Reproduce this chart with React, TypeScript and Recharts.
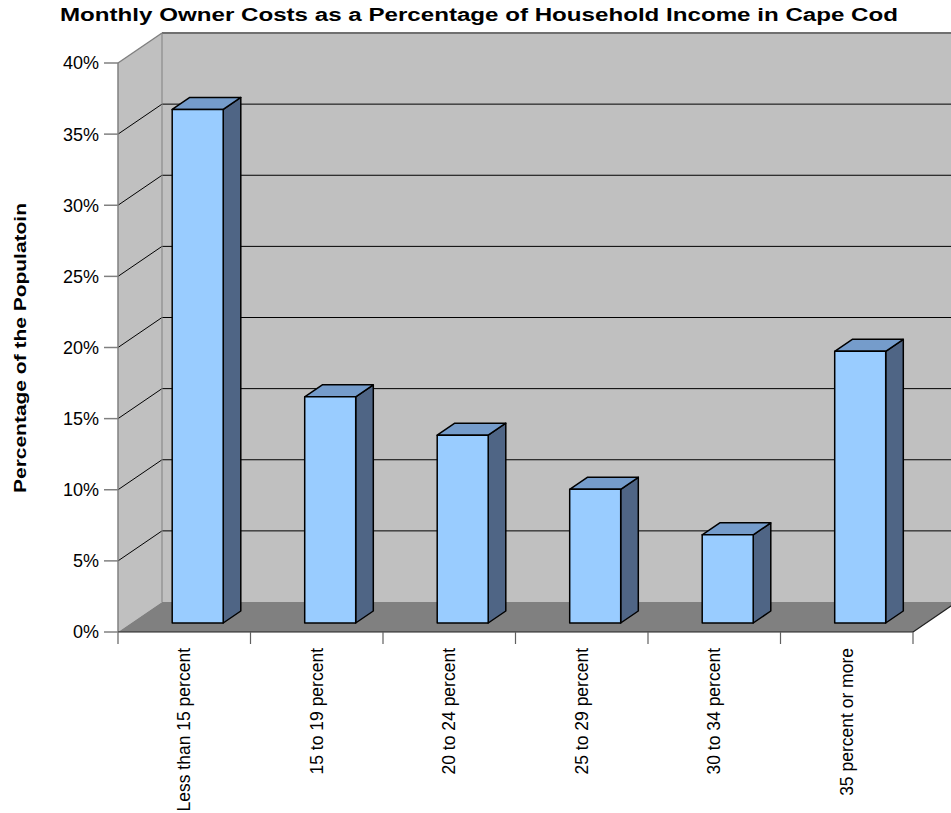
import { BarChart, Bar, XAxis, YAxis, ReferenceArea } from "recharts"

const categories = [
  "Less than 15 percent",
  "15 to 19 percent",
  "20 to 24 percent",
  "25 to 29 percent",
  "30 to 34 percent",
  "35 percent or more",
]
const shares = [36.1, 15.9, 13.2, 9.4, 6.2, 19.1]
const yTicks = [0, 5, 10, 15, 20, 25, 30, 35, 40]

const data = categories.map((name, i) => ({ name, value: shares[i] }))

const FONT = "'Liberation Sans', Arial, Helvetica, sans-serif"
// oblique offset of the back wall relative to the front plane
const DX = 44
const DY = -30
const YMAX = 40

// back wall, side wall, floor and the gridlines painted on them
const Walls = (props: any) => {
  const { x, y, width: w, height: h } = props
  const bottom = y + h
  return (
    <g>
      <polygon
        points={`${x},${y} ${x + DX},${y + DY} ${x + DX},${bottom + DY} ${x},${bottom}`}
        fill="#c0c0c0"
      />
      <rect x={x + DX} y={y + DY} width={w} height={h} fill="#c0c0c0" />
      <polygon
        points={`${x},${bottom} ${x + w},${bottom} ${x + w + DX},${bottom + DY} ${x + DX},${bottom + DY}`}
        fill="#808080"
      />
      {yTicks
        .filter((t) => t > 0 && t < YMAX)
        .map((t) => {
          const yy = y + h * (1 - t / YMAX)
          return (
            <g key={t}>
              <line x1={x} y1={yy} x2={x + DX} y2={yy + DY} stroke="#000" strokeWidth={1} />
              <line x1={x + DX} y1={yy + DY} x2={x + w + DX} y2={yy + DY} stroke="#000" strokeWidth={1} />
            </g>
          )
        })}
      {/* wall edges */}
      <line x1={x} y1={y} x2={x + DX} y2={y + DY} stroke="#808080" strokeWidth={1.5} />
      <line x1={x + DX} y1={y + DY} x2={x + w + DX} y2={y + DY} stroke="#707070" strokeWidth={2} />
      <line x1={x + DX} y1={y + DY} x2={x + DX} y2={bottom + DY} stroke="#808080" strokeWidth={1} />
      <line x1={x} y1={y} x2={x} y2={bottom} stroke="#808080" strokeWidth={1.5} />
      {/* floor edges */}
      <line x1={x} y1={bottom} x2={x + w} y2={bottom} stroke="#202020" strokeWidth={1.2} />
      <line x1={x + w} y1={bottom} x2={x + w + DX} y2={bottom + DY} stroke="#202020" strokeWidth={1.2} />
      {/* category separators */}
      {Array.from({ length: categories.length + 1 }, (_, i) => {
        const xx = x + (i * w) / categories.length
        return <line key={i} x1={xx} y1={bottom} x2={xx} y2={bottom + 12} stroke="#606060" strokeWidth={1.2} />
      })}
    </g>
  )
}

// 3D box sitting in the middle of the floor depth
const Box = (props: any) => {
  const { x, y, width: w, height: h } = props
  if (h == null || h <= 0) return null
  const fx = x + DX * 0.3
  const fy = y + DY * 0.3
  const bx = DX * 0.4
  const by = DY * 0.4
  return (
    <g stroke="#000" strokeWidth={1.5} strokeLinejoin="round">
      <polygon
        points={`${fx + w},${fy} ${fx + w + bx},${fy + by} ${fx + w + bx},${fy + h + by} ${fx + w},${fy + h}`}
        fill="#4f6585"
      />
      <polygon
        points={`${fx},${fy} ${fx + w},${fy} ${fx + w + bx},${fy + by} ${fx + bx},${fy + by}`}
        fill="#759ccb"
      />
      <rect x={fx} y={fy} width={w} height={h} fill="#99ccff" />
    </g>
  )
}

const CategoryTick = (props: any) => {
  const { x, y, payload } = props
  return (
    <text
      x={0}
      y={0}
      dy="0.35em"
      transform={`translate(${x},${y}) rotate(-90)`}
      textAnchor="end"
      fontFamily={FONT}
      fontSize={17.5}
      fill="#000"
    >
      {payload.value}
    </text>
  )
}

export default function App() {
  return (
    <div style={{ position: "absolute", left: 0, top: 0, width: 951, height: 813, background: "#fff" }}>
      <BarChart
        width={951}
        height={813}
        data={data}
        margin={{ top: 63, right: 38, bottom: 0, left: 0 }}
      >
        <ReferenceArea y1={0} y2={YMAX} ifOverflow="visible" zIndex={-100} shape={(p: any) => <Walls {...p} />} />
        <XAxis
          dataKey="name"
          height={181}
          axisLine={false}
          tickLine={false}
          tickSize={0}
          tickMargin={16}
          interval={0}
          tick={<CategoryTick />}
        />
        <YAxis
          width={118}
          domain={[0, YMAX]}
          ticks={yTicks}
          interval={0}
          axisLine={false}
          tickLine={{ stroke: "#808080", strokeWidth: 1.5 }}
          tickSize={14}
          tickMargin={5}
          tickFormatter={(v: number) => `${v}%`}
          tick={{ fontFamily: FONT, fontSize: 18, fill: "#000" }}
        />
        <Bar dataKey="value" barSize={51} shape={(p: any) => <Box {...p} />} isAnimationActive={false} />
      </BarChart>
      <svg
        width={951}
        height={813}
        style={{ position: "absolute", left: 0, top: 0, pointerEvents: "none" }}
      >
        <text
          x={60}
          y={21}
          textLength={838}
          lengthAdjust="spacingAndGlyphs"
          fontFamily={FONT}
          fontWeight="bold"
          fontSize={18}
          fill="#000"
        >
          Monthly Owner Costs as a Percentage of Household Income in Cape Cod
        </text>
        <text
          x={0}
          y={0}
          transform="translate(26,493) rotate(-90)"
          textLength={290}
          lengthAdjust="spacingAndGlyphs"
          fontFamily={FONT}
          fontWeight="bold"
          fontSize={17}
          fill="#000"
        >
          Percentage of the Populatoin
        </text>
      </svg>
    </div>
  )
}
